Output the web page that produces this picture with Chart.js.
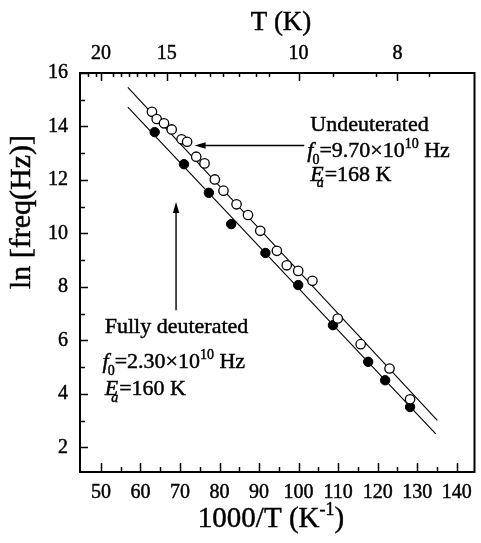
<!DOCTYPE html>
<html>
<head>
<meta charset="utf-8">
<script src="https://cdn.jsdelivr.net/npm/chart.js@4.4.1/dist/chart.umd.min.js"></script>
<style>
  html, body { margin: 0; padding: 0; background: #fff; }
</style>
</head>
<body>
<canvas id="chart" width="481" height="543"></canvas>
<script>
// Undeuterated sample (open circles): 1000/T and ln(freq)
const undeutX = [62.9, 64.1, 65.95, 67.9, 70.4, 71.8, 74.1, 76.2, 78.8, 81.0, 84.3,
  87.2, 90.3, 94.5, 97.0, 99.9, 103.5, 109.9, 115.7, 123.0, 128.2];
const undeutY = [14.55, 14.28, 14.12, 13.89, 13.52, 13.43, 12.87, 12.62, 12.02, 11.60, 11.09,
  10.69, 10.10, 9.35, 8.81, 8.60, 8.23, 6.82, 5.86, 4.95, 3.80];

// Fully deuterated sample (filled circles)
const deutX = [63.6, 71.0, 77.3, 82.95, 91.6, 99.9, 108.7, 117.6, 121.9, 128.2];
const deutY = [13.79, 12.59, 11.52, 10.35, 9.27, 8.07, 6.57, 5.20, 4.51, 3.51];

// Arrhenius fit lines, end points
const undeutFitX = [56.8, 135.1];
const undeutFitY = [15.46, 3.01];
const deutFitX = [56.8, 134.7];
const deutFitY = [14.72, 2.51];

// Axes
const X_MIN = 44.7, X_MAX = 144.5;
const Y_MIN = 1.08, Y_MAX = 16;
const bottomTicks = [50, 60, 70, 80, 90, 100, 110, 120, 130, 140];
const leftTicks = [2, 4, 6, 8, 10, 12, 14, 16];
const topTempLabels = [20, 15, 10, 8];
// minor marks on the temperature axis, in 1000/T units
const topMinorTicks = [46.7, 48.8, 52.95, 55.0, 57.1, 59.2, 61.3, 63.4, 70.0, 73.8, 77.5,
  80.9, 85.0, 89.2, 92.5, 108.8, 119.6, 132.95];

const SERIF = '"Liberation Serif", "Times New Roman", serif';
const INK = 0.45; // a touch of stroke so the serif text prints heavier

const toPoints = (xs, ys) => xs.map((x, i) => ({ x, y: ys[i] }));

function inkText(ctx, t, x, y) {
  ctx.fillText(t, x, y);
  ctx.strokeText(t, x, y);
}

// rich text: parts like {t, it, sub, sup, dx}
function partFont(p, size) {
  const fs = p.sub || p.sup ? Math.round(size * 0.62) : size;
  return (p.it ? "italic " : "") + fs + "px " + SERIF;
}
function richWidth(ctx, parts, size) {
  let w = 0;
  parts.forEach((p) => {
    ctx.font = partFont(p, size);
    w += (p.dx || 0) + ctx.measureText(p.t).width;
  });
  return w;
}
function drawRich(ctx, x, y, parts, size) {
  let cx = x;
  ctx.textBaseline = "alphabetic";
  ctx.textAlign = "left";
  parts.forEach((p) => {
    ctx.font = partFont(p, size);
    const dy = p.sub ? size * 0.3 : p.sup ? -size * 0.42 : 0;
    cx += p.dx || 0;
    inkText(ctx, p.t, cx, y + dy);
    cx += ctx.measureText(p.t).width;
  });
}

function arrow(ctx, x0, y0, x1, y1) {
  const ang = Math.atan2(y1 - y0, x1 - x0);
  const len = 11, half = 3.2;
  ctx.beginPath();
  ctx.moveTo(x0, y0);
  ctx.lineTo(x1 - Math.cos(ang) * len * 0.8, y1 - Math.sin(ang) * len * 0.8);
  ctx.stroke();
  ctx.beginPath();
  ctx.moveTo(x1, y1);
  ctx.lineTo(x1 - Math.cos(ang) * len - Math.sin(ang) * half, y1 - Math.sin(ang) * len + Math.cos(ang) * half);
  ctx.lineTo(x1 - Math.cos(ang) * len + Math.sin(ang) * half, y1 - Math.sin(ang) * len - Math.cos(ang) * half);
  ctx.closePath();
  ctx.fill();
}

// frame, inward ticks, axis titles and the two labelled arrows
const decorations = {
  id: "decorations",
  afterDraw(chart) {
    const { ctx, chartArea: a, scales } = chart;
    const xs = scales.x, ys = scales.y;
    ctx.save();
    ctx.strokeStyle = "#000";
    ctx.fillStyle = "#000";

    // ticks
    ctx.lineWidth = 1.5;
    ctx.beginPath();
    bottomTicks.forEach((v) => {
      const px = Math.round(xs.getPixelForValue(v)) + 0.5;
      ctx.moveTo(px, a.bottom); ctx.lineTo(px, a.bottom - 9);
      const pm = Math.round(xs.getPixelForValue(v + 5)) + 0.5;
      if (v + 5 < X_MAX) { ctx.moveTo(pm, a.bottom); ctx.lineTo(pm, a.bottom - 5); }
    });
    leftTicks.forEach((v) => {
      const py = Math.round(ys.getPixelForValue(v)) + 0.5;
      ctx.moveTo(a.left, py); ctx.lineTo(a.left + 8, py);
      if (v + 1 < Y_MAX) {
        const pm = Math.round(ys.getPixelForValue(v + 1)) + 0.5;
        ctx.moveTo(a.left, pm); ctx.lineTo(a.left + 5, pm);
      }
    });
    topTempLabels.forEach((t) => {
      const px = Math.round(xs.getPixelForValue(1000 / t)) + 0.5;
      ctx.moveTo(px, a.top); ctx.lineTo(px, a.top + 8);
    });
    topMinorTicks.forEach((v) => {
      const px = Math.round(xs.getPixelForValue(v)) + 0.5;
      ctx.moveTo(px, a.top); ctx.lineTo(px, a.top + 4);
    });
    ctx.stroke();

    // frame
    ctx.lineWidth = 2;
    ctx.strokeRect(a.left, a.top, a.right - a.left, a.bottom - a.top);

    // axis titles
    ctx.lineWidth = INK;
    ctx.textAlign = "center";
    ctx.textBaseline = "alphabetic";
    ctx.font = "27px " + SERIF;
    inkText(ctx, "T (K)", 281, 30);

    const xTitle = [{ t: "1000/T (K" }, { t: "-1", sup: true }, { t: ")" }];
    const xw = richWidth(ctx, xTitle, 29);
    drawRich(ctx, 271 - xw / 2, 527, xTitle, 29);

    ctx.save();
    ctx.translate(30, 212);
    ctx.rotate(-Math.PI / 2);
    ctx.textAlign = "center";
    ctx.font = "30px " + SERIF;
    inkText(ctx, "ln [freq(Hz)]", 0, 0);
    ctx.restore();

    // annotations
    const X = (v) => xs.getPixelForValue(v);
    const Y = (v) => ys.getPixelForValue(v);
    ctx.lineWidth = 1.4;
    arrow(ctx, X(101.45), Y(13.29), X(73.7), Y(13.29));
    arrow(ctx, X(69.0), Y(7.13), X(69.0), Y(11.18));

    ctx.lineWidth = INK;
    const size = 22;
    ctx.font = size + "px " + SERIF;
    ctx.textAlign = "left";
    inkText(ctx, "Undeuterated", X(102.95), Y(13.83));
    drawRich(ctx, X(102.2), Y(12.86), [
      { t: "f", it: true }, { t: "0", sub: true, dx: -1 }, { t: "=9.70×10" },
      { t: "10", sup: true }, { t: " Hz" }], size);
    drawRich(ctx, X(102.95), Y(11.97), [
      { t: "E", it: true }, { t: "a", it: true, sub: true, dx: -7 }, { t: "=168 K", dx: 1 }], size);

    ctx.font = size + "px " + SERIF;
    inkText(ctx, "Fully deuterated", X(50.95), Y(6.27));
    drawRich(ctx, X(50.4), Y(4.96), [
      { t: "f", it: true }, { t: "0", sub: true, dx: -1 }, { t: "=2.30×10" },
      { t: "10", sup: true }, { t: " Hz" }], size);
    drawRich(ctx, X(50.95), Y(3.96), [
      { t: "E", it: true }, { t: "a", it: true, sub: true, dx: -7 }, { t: "=160 K", dx: 1 }], size);

    ctx.restore();
  }
};

const tickFont = { family: SERIF, size: 20 };
const tickStyle = {
  font: tickFont, color: "#000", autoSkip: false, maxRotation: 0,
  textStrokeColor: "#000", textStrokeWidth: INK
};
const hiddenGrid = { display: false, drawTicks: false, tickLength: 0 };

new Chart(document.getElementById("chart"), {
  type: "scatter",
  data: {
    datasets: [
      {
        label: "Undeuterated",
        data: toPoints(undeutX, undeutY),
        pointStyle: "circle",
        pointRadius: 4.7,
        pointBorderWidth: 1.3,
        pointBackgroundColor: "#fff",
        pointBorderColor: "#000",
        showLine: false
      },
      {
        label: "Fully deuterated",
        data: toPoints(deutX, deutY),
        pointStyle: "circle",
        pointRadius: 4.7,
        pointBorderWidth: 1,
        pointBackgroundColor: "#000",
        pointBorderColor: "#000",
        showLine: false
      },
      {
        label: "fit undeuterated",
        data: toPoints(undeutFitX, undeutFitY),
        showLine: true,
        borderColor: "#000",
        borderWidth: 1.1,
        pointRadius: 0
      },
      {
        label: "fit deuterated",
        data: toPoints(deutFitX, deutFitY),
        showLine: true,
        borderColor: "#000",
        borderWidth: 1.1,
        pointRadius: 0
      }
    ]
  },
  options: {
    responsive: false,
    animation: false,
    devicePixelRatio: 1,
    layout: { padding: { top: 0, right: 2, bottom: 0, left: 0 } },
    plugins: { legend: { display: false }, tooltip: { enabled: false } },
    scales: {
      x: {
        type: "linear",
        position: "bottom",
        min: X_MIN,
        max: X_MAX,
        grid: hiddenGrid,
        border: { display: false },
        ticks: {
          ...tickStyle, padding: 9,
          callback: (v) => (bottomTicks.includes(v) ? String(v) : "")
        },
        afterBuildTicks: (s) => { s.ticks = bottomTicks.map((v) => ({ value: v })); },
        afterFit: (s) => { s.height = 71; }
      },
      xTop: {
        type: "linear",
        position: "top",
        min: X_MIN,
        max: X_MAX,
        grid: hiddenGrid,
        border: { display: false },
        ticks: { ...tickStyle, padding: 7, callback: (v, i) => String(topTempLabels[i] ?? "") },
        afterBuildTicks: (s) => { s.ticks = topTempLabels.map((t) => ({ value: 1000 / t })); },
        afterFit: (s) => { s.height = 73; }
      },
      y: {
        type: "linear",
        min: Y_MIN,
        max: Y_MAX,
        grid: hiddenGrid,
        border: { display: false },
        ticks: {
          ...tickStyle, padding: 12,
          callback: (v) => (leftTicks.includes(v) ? String(v) : "")
        },
        afterBuildTicks: (s) => { s.ticks = leftTicks.map((v) => ({ value: v })); },
        afterFit: (s) => { s.width = 80; }
      }
    }
  },
  plugins: [decorations]
});
</script>
</body>
</html>
